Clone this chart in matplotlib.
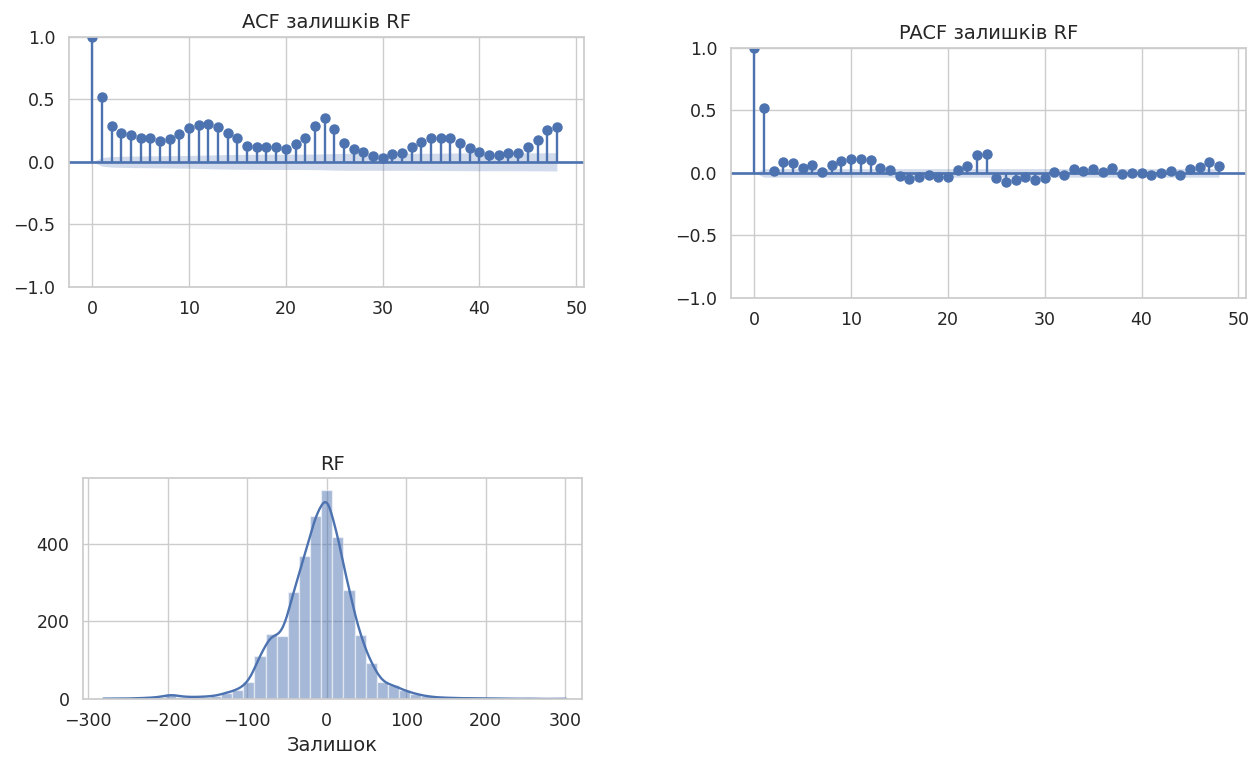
import numpy as np
import matplotlib
matplotlib.use('Agg')
import matplotlib.pyplot as plt
import seaborn as sns

# ACF / PACF of RF residuals, lags 0..48
lags = list(range(49))
acf_vals = [1.0, 0.52, 0.287, 0.228, 0.217, 0.193, 0.193, 0.17, 0.18, 0.22,
            0.27, 0.295, 0.305, 0.28, 0.233, 0.193, 0.13, 0.118, 0.118, 0.118,
            0.10, 0.14, 0.193, 0.287, 0.354, 0.265, 0.147, 0.10, 0.078, 0.05,
            0.032, 0.06, 0.072, 0.12, 0.158, 0.188, 0.188, 0.188, 0.147, 0.113,
            0.078, 0.054, 0.054, 0.067, 0.067, 0.12, 0.174, 0.252, 0.28]
pacf_vals = [1.0, 0.516, 0.013, 0.086, 0.078, 0.038, 0.065, 0.01, 0.065, 0.094,
             0.11, 0.11, 0.10, 0.043, 0.027, -0.024, -0.048, -0.03, -0.016, -0.03,
             -0.03, 0.027, 0.054, 0.14, 0.148, -0.038, -0.075, -0.056, -0.035, -0.056,
             -0.043, 0.01, -0.016, 0.032, 0.019, 0.032, 0.005, 0.038, -0.008, 0.0,
             0.0, -0.013, 0.0, 0.013, -0.013, 0.032, 0.046, 0.091, 0.054]

# residual histogram: left bin edge and counts (bin width 14)
bin_left = list(range(-287, 288, 14))
bin_counts = [1, 1, 1, 2, 3, 5, 12, 6, 5, 6,
              8, 16, 24, 43, 112, 167, 162, 275, 369, 473,
              538, 417, 281, 164, 92, 43, 35, 22, 13, 7,
              4, 3, 2, 2, 1, 1, 1, 0, 1, 0,
              0, 1]
bin_width = 14

sns.set_theme(style='whitegrid')
plt.rcParams['font.family'] = ['DejaVu Sans']
plt.rcParams['xtick.labelsize'] = 12.5
plt.rcParams['ytick.labelsize'] = 12.5

blue = '#4C72B0'
nobs = sum(bin_counts)


def corr_plot(ax, vals, band, title):
    ax.fill_between(lags, -band, band, color=blue, alpha=0.25, linewidth=0)
    ax.vlines(lags, 0, vals, color=blue, linewidth=1.7)
    ax.axhline(0, color=blue, linewidth=1.9)
    ax.plot(lags, vals, 'o', color=blue, markersize=6.5)
    ax.set_xlim(-2.45, 50.8)
    ax.set_ylim(-1.0, 1.0)
    ax.set_xticks([0, 10, 20, 30, 40, 50])
    ax.set_yticks([-1.0, -0.5, 0.0, 0.5, 1.0])
    ax.set_title(title, fontsize=14)


fig = plt.figure(figsize=(12.58, 7.63), dpi=100)

# Bartlett band for ACF, constant band for PACF
r = np.array(acf_vals)
var_acf = np.ones(len(r)) / nobs
var_acf[0] = 0
var_acf[2:] *= 1 + 2 * np.cumsum(r[1:-1] ** 2)
acf_band = 1.96 * np.sqrt(var_acf)
pacf_band = np.full(len(lags), 1.96 / np.sqrt(nobs))
pacf_band[0] = 0

ax1 = fig.add_axes([0.0545, 0.6239, 0.4097, 0.328])
corr_plot(ax1, acf_vals, acf_band, 'ACF залишків RF')

ax2 = fig.add_axes([0.5808, 0.6094, 0.4097, 0.328])
corr_plot(ax2, pacf_vals, pacf_band, 'PACF залишків RF')

# histogram + kde
ax3 = fig.add_axes([0.0657, 0.0839, 0.3969, 0.2896])
edges = np.array(bin_left + [bin_left[-1] + bin_width])
counts = np.array(bin_counts)
ax3.bar(edges[:-1], counts, width=bin_width, align='edge', color=blue,
        alpha=0.5, edgecolor='white', linewidth=1)

centers = edges[:-1] + bin_width / 2
xs = np.linspace(edges[0] + 6, edges[-1], 500)
h = 8.5
kde = np.zeros_like(xs)
for m, c in zip(centers, counts):
    kde += c * np.exp(-0.5 * ((xs - m) / h) ** 2) / (h * np.sqrt(2 * np.pi))
ax3.plot(xs, kde * bin_width, color=blue, linewidth=1.7)

ax3.set_xlim(-307, 321)
ax3.set_ylim(0, 570)
ax3.set_xticks([-300, -200, -100, 0, 100, 200, 300])
ax3.set_yticks([0, 200, 400])
ax3.set_title('RF', fontsize=14)
ax3.set_xlabel('Залишок', fontsize=14)
ax3.set_ylabel('')

fig.savefig('out.png', dpi=100)
